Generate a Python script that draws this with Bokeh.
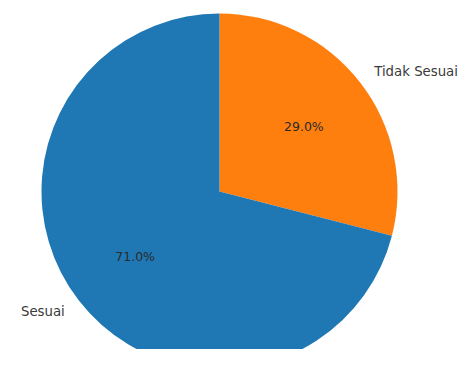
import math
from bokeh.plotting import figure
from bokeh.models import Range1d, ColumnDataSource
from bokeh.core.properties import value
from bokeh.embed import file_html
from bokeh.resources import INLINE

labels = ["Tidak Sesuai", "Sesuai"]
shares = [29.0, 71.0]
colors = ["#ff7f0e", "#1f77b4"]

W, H = 459, 349
CX, CY = 219, 191  # pie centre in pixel offsets from top-left of the figure
R = 178

p = figure(width=W, height=H, output_backend="svg", toolbar_location=None,
           x_range=Range1d(-CX, W - CX), y_range=Range1d(-(H - CY), CY),
           min_border=0, match_aspect=False)
p.axis.visible = False
p.grid.visible = False
p.outline_line_color = None
p.background_fill_color = "white"
p.border_fill_color = "white"

total = sum(shares)
start = 90.0
rows = dict(start=[], end=[], color=[], lx=[], ly=[], px=[], py=[], align=[], lab=[], pct=[])
for lab, s, c in zip(labels, shares, colors):
    sweep = 360.0 * s / total
    end = start - sweep
    mid = math.radians((start + end) / 2)
    rows["start"].append(math.radians(end))
    rows["end"].append(math.radians(start))
    rows["color"].append(c)
    rows["lx"].append(1.1 * R * math.cos(mid))
    rows["ly"].append(1.1 * R * math.sin(mid))
    rows["px"].append(0.6 * R * math.cos(mid))
    rows["py"].append(0.6 * R * math.sin(mid))
    rows["align"].append("left" if math.cos(mid) > 0 else "right")
    rows["lab"].append(lab)
    rows["pct"].append(f"{s:.1f}%")
    start = end

src = ColumnDataSource(rows)
p.wedge(x=0, y=0, radius=R, start_angle="start", end_angle="end",
        direction="anticlock", fill_color="color", line_color=None, source=src)
p.text(x="lx", y="ly", text="lab", text_align="align", text_baseline="middle",
       text_font=value("DejaVu Sans"), text_font_size="13.3px", text_color="#3a3a3a",
       source=src)
p.text(x="px", y="py", text="pct", text_align="center", text_baseline="middle",
       text_font=value("DejaVu Sans"), text_font_size="12.5px", text_color="#2a2a2a",
       source=src)

open("out.html", "w").write(file_html(p, INLINE))
